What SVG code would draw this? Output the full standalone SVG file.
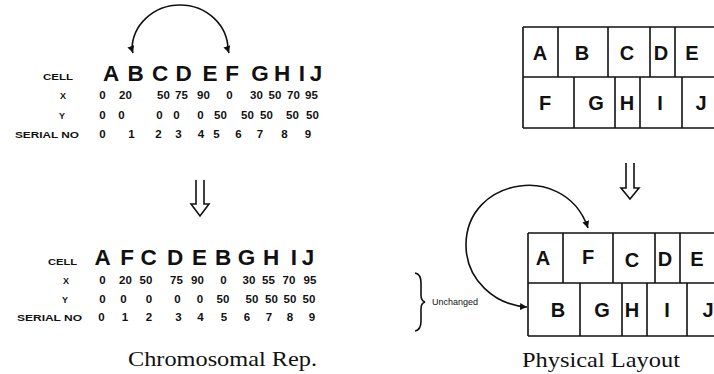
<svg xmlns="http://www.w3.org/2000/svg" width="714" height="374" viewBox="0 0 714 374">
<defs>
<style>
.lbl{font-family:"Liberation Sans",Arial,sans-serif;font-weight:bold;font-size:9px;fill:#111}
.big{font-family:"Liberation Sans",Arial,sans-serif;font-weight:bold;font-size:22.5px;fill:#111;text-anchor:middle}
.num{font-family:"Liberation Sans",Arial,sans-serif;font-weight:bold;font-size:11.5px;fill:#111;text-anchor:middle}
.box{font-family:"Liberation Sans",Arial,sans-serif;font-weight:bold;font-size:20px;fill:#111;text-anchor:middle}
.cap{font-family:"Liberation Serif","Times New Roman",serif;font-size:22px;fill:#111}
.small{font-family:"Liberation Sans",Arial,sans-serif;font-size:9px;fill:#111}
.ln{stroke:#111;stroke-width:1.6;fill:none}
.arc{stroke:#111;stroke-width:1.6;fill:none}
</style>
<marker id="ah" viewBox="0 0 10 10" refX="10" refY="5" markerWidth="7" markerHeight="7" markerUnits="userSpaceOnUse" orient="auto-start-reverse">
<path d="M0,0 L10,5 L0,10 z" fill="#111"/>
</marker>
</defs>
<rect width="714" height="374" fill="#fff"/>

<g id="chromosome-before">
<text class="lbl" x="43" y="80" textLength="30" lengthAdjust="spacingAndGlyphs">CELL</text>
<text class="lbl" x="60" y="99">X</text>
<text class="lbl" x="59" y="119">Y</text>
<text class="lbl" x="15" y="138" textLength="64" lengthAdjust="spacingAndGlyphs">SERIAL NO</text>
<g class="big">
<text x="111" y="81">A</text><text x="135.5" y="81">B</text><text x="160" y="81">C</text><text x="183.5" y="81">D</text><text x="210" y="81">E</text><text x="232" y="81">F</text><text x="260" y="81">G</text><text x="282" y="81">H</text><text x="302" y="81">I</text><text x="316" y="81">J</text>
</g>
<g class="num">
<text x="102.5" y="99">0</text><text x="125.5" y="99">20</text><text x="163.5" y="99">50</text><text x="181.5" y="99">75</text><text x="203.5" y="99">90</text><text x="229.5" y="99">0</text><text x="256.5" y="99">30</text><text x="275" y="99">50</text><text x="293.5" y="99">70</text><text x="311.5" y="99">95</text>
<text x="102.5" y="119">0</text><text x="121.5" y="119">0</text><text x="159.5" y="119">0</text><text x="176.5" y="119">0</text><text x="200.5" y="119">0</text><text x="220.5" y="119">50</text><text x="247.5" y="119">50</text><text x="266.5" y="119">50</text><text x="292.5" y="119">50</text><text x="312.5" y="119">50</text>
<text x="102.5" y="138">0</text><text x="131.5" y="138">1</text><text x="158.5" y="138">2</text><text x="178.5" y="138">3</text><text x="201" y="138">4</text><text x="216.5" y="138">5</text><text x="238.5" y="138">6</text><text x="260" y="138">7</text><text x="284.5" y="138">8</text><text x="308" y="138">9</text>
</g>
</g>

<g id="chromosome-after">
<text class="lbl" x="48" y="265" textLength="29" lengthAdjust="spacingAndGlyphs">CELL</text>
<text class="lbl" x="63" y="284">X</text>
<text class="lbl" x="62" y="303">Y</text>
<text class="lbl" x="17" y="321" textLength="65" lengthAdjust="spacingAndGlyphs">SERIAL NO</text>
<g class="big">
<text x="102.5" y="265">A</text><text x="127" y="265">F</text><text x="148.7" y="265">C</text><text x="175" y="265">D</text><text x="199.5" y="265">E</text><text x="223" y="265">B</text><text x="246.5" y="265">G</text><text x="271" y="265">H</text><text x="294" y="265">I</text><text x="308" y="265">J</text>
</g>
<g class="num">
<text x="102.5" y="284">0</text><text x="125.5" y="284">20</text><text x="146" y="284">50</text><text x="176.5" y="284">75</text><text x="197.5" y="284">90</text><text x="223.5" y="284">0</text><text x="249" y="284">30</text><text x="268.5" y="284">55</text><text x="289" y="284">70</text><text x="310" y="284">95</text>
<text x="102.5" y="303">0</text><text x="123.5" y="303">0</text><text x="149" y="303">0</text><text x="177.5" y="303">0</text><text x="200" y="303">0</text><text x="223" y="303">50</text><text x="252" y="303">50</text><text x="271.5" y="303">50</text><text x="290" y="303">50</text><text x="309" y="303">50</text>
<text x="101.5" y="321">0</text><text x="125" y="321">1</text><text x="149" y="321">2</text><text x="178.5" y="321">3</text><text x="200.5" y="321">4</text><text x="224" y="321">5</text><text x="247" y="321">6</text><text x="269" y="321">7</text><text x="290" y="321">8</text><text x="312" y="321">9</text>
</g>
<path class="arc" d="M415,273 Q421,274 421,283 L421,295 Q421,301 425,302 Q421,303 421,309 L421,321 Q421,330 415,331"/>
<text class="small" x="432" y="305">Unchanged</text>
</g>

<g id="layout-before">
<path class="ln" d="M523,27 H716 M523,77 H716 M523,128 H716 M523,27 V128 M558,27 V77 M608,27 V77 M650,27 V77 M675,27 V77 M574,77 V128 M615,77 V128 M640,77 V128 M682,77 V128"/>
<g class="box">
<text x="540" y="60">A</text><text x="582" y="60">B</text><text x="627" y="60">C</text><text x="661" y="60">D</text><text x="692" y="60">E</text>
<text x="545" y="110">F</text><text x="596" y="110">G</text><text x="627" y="110">H</text><text x="660" y="110">I</text><text x="701" y="110">J</text>
</g>
</g>

<g id="layout-after">
<path class="ln" d="M528,233 H716 M528,283 H716 M528,336 H716 M528,233 V336 M563,233 V283 M613,233 V283 M655,233 V283 M680,233 V283 M580,283 V336 M622,283 V336 M647,283 V336 M687,283 V336"/>
<g class="box">
<text x="543" y="265">A</text><text x="588" y="264">F</text><text x="632" y="267">C</text><text x="665" y="266">D</text><text x="697" y="266">E</text>
<text x="558" y="317">B</text><text x="602" y="317">G</text><text x="632" y="317">H</text><text x="667" y="317">I</text><text x="708" y="317">J</text>
</g>
</g>

<g id="connectors">
<path class="arc" d="M133,53 L132,50 A48,45 0 0 1 228,50 L229,53" marker-start="url(#ah)" marker-end="url(#ah)"/>
<path class="arc" d="M588,228 C575,190 540,183 520,186 C490,190 466,212 466,245 C466,280 495,305 527,307" marker-start="url(#ah)" marker-end="url(#ah)"/>
<path class="ln" d="M196,180 V204 H191 L200,216 L209,204 H204 V180" stroke-width="1.3"/>
<path class="ln" d="M626,163 V188 H621 L630,199 L639,188 H634 V163" stroke-width="1.3"/>
</g>

<text class="cap" x="128" y="366" textLength="189" lengthAdjust="spacingAndGlyphs">Chromosomal Rep.</text>
<text class="cap" x="522" y="367" textLength="158" lengthAdjust="spacingAndGlyphs">Physical Layout</text>
</svg>
